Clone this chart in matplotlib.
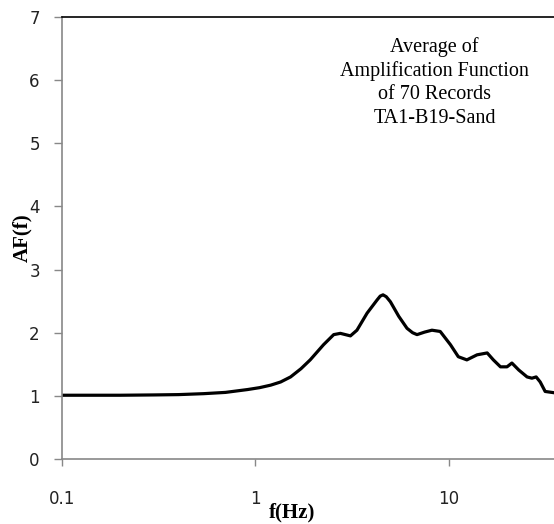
import matplotlib
matplotlib.use("Agg")
import matplotlib.pyplot as plt
from matplotlib.ticker import FixedLocator, NullLocator

# Average amplification function
freq = [0.1, 0.2, 0.3, 0.4, 0.54, 0.7, 0.91, 1.05, 1.2, 1.35, 1.52, 1.72, 1.92,
        2.25, 2.54, 2.75, 3.1, 3.35, 3.78, 4.26, 4.42, 4.57, 4.75, 4.99, 5.51, 6.08,
        6.5, 6.85, 7.5, 8.18, 9.03, 10.2, 11.2, 12.4, 14.0, 15.8, 17.0, 18.5,
        20.0, 21.2, 23.0, 25.4, 26.9, 28.3, 29.7, 31.5, 35.0]
af = [1.01, 1.01, 1.015, 1.02, 1.035, 1.055, 1.10, 1.13, 1.17, 1.22, 1.30, 1.43, 1.57,
      1.81, 1.97, 1.99, 1.95, 2.04, 2.31, 2.52, 2.58, 2.60, 2.57, 2.49, 2.26, 2.07,
      2.00, 1.97, 2.01, 2.04, 2.02, 1.81, 1.62, 1.57, 1.65, 1.68, 1.57, 1.46,
      1.46, 1.52, 1.41, 1.30, 1.28, 1.30, 1.22, 1.07, 1.05]

x_ticks = [0.1, 1, 10]
x_tick_labels = ["0.1", "1", "10"]
y_ticks = [0, 1, 2, 3, 4, 5, 6, 7]

note = "Average of\nAmplification Function\nof 70 Records\nTA1-B19-Sand"

fig = plt.figure(figsize=(5.54, 5.24), dpi=100)
ax = fig.add_axes([0.112, 0.124, 0.888, 0.8436])

ax.plot(freq, af, color="black", linewidth=2.3, solid_joinstyle="round")

ax.set_xscale("log")
ax.set_xlim(0.1, 35)
ax.set_ylim(0, 7)
ax.xaxis.set_major_locator(FixedLocator(x_ticks))
ax.xaxis.set_minor_locator(NullLocator())
ax.set_xticklabels(x_tick_labels)
ax.set_yticks(y_ticks)

for lab in ax.get_xticklabels() + ax.get_yticklabels():
    lab.set_fontfamily("DejaVu Sans")
    lab.set_fontsize(12)
    lab.set_color("#222222")

ax.tick_params(axis="x", direction="out", length=5, width=1, color="#888888", pad=17)
ax.tick_params(axis="y", direction="out", length=6, width=1, color="#888888", pad=10)

for side in ("left", "bottom"):
    ax.spines[side].set_color("#888888")
    ax.spines[side].set_linewidth(1.2)
ax.spines["top"].set_color("black")
ax.spines["top"].set_linewidth(1.2)
ax.spines["right"].set_visible(False)

ax.set_xlabel("f(Hz)", fontfamily="Liberation Serif", fontweight="bold", fontsize=15)
ax.xaxis.set_label_coords(0.468, -0.122)
ax.xaxis.label.set_verticalalignment("center")
ax.set_ylabel("AF(f)", fontfamily="Liberation Serif", fontweight="bold", fontsize=15)
ax.yaxis.set_label_coords(-0.080, 0.500)
ax.yaxis.label.set_verticalalignment("center")

ax.text(0.757, 0.852, note, transform=ax.transAxes, ha="center", va="center",
        fontfamily="Liberation Serif", fontsize=14.5, linespacing=1.29)

fig.savefig("out.png", dpi=100)
